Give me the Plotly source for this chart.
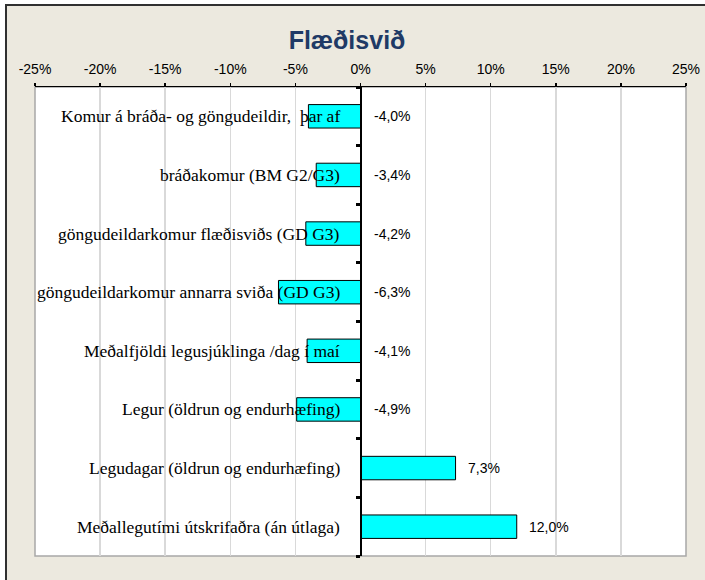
import plotly.graph_objects as go

categories = [
    "Komur á bráða- og göngudeildir,  þar af",
    "bráðakomur (BM G2/G3)",
    "göngudeildarkomur flæðisviðs (GD G3)",
    "göngudeildarkomur annarra sviða (GD G3)",
    "Meðalfjöldi legusjúklinga /dag í maí",
    "Legur (öldrun og endurhæfing)",
    "Legudagar (öldrun og endurhæfing)",
    "Meðallegutími útskrifaðra (án útlaga)",
]
values = [-0.040, -0.034, -0.042, -0.063, -0.041, -0.049, 0.073, 0.120]
value_labels = ["-4,0%", "-3,4%", "-4,2%", "-6,3%", "-4,1%", "-4,9%", "7,3%", "12,0%"]
x_ticks = [-0.25, -0.20, -0.15, -0.10, -0.05, 0, 0.05, 0.10, 0.15, 0.20, 0.25]
x_tick_labels = ["-25%", "-20%", "-15%", "-10%", "-5%", "0%", "5%", "10%", "15%", "20%", "25%"]

n = len(categories)
ypos = list(range(n))

fig = go.Figure()
fig.add_trace(go.Bar(
    x=values, y=ypos, orientation="h",
    marker=dict(color="#00FFFF", line=dict(color="black", width=1)),
    width=0.4, hoverinfo="skip",
))

annotations = []
for i, (c, v, lab) in enumerate(zip(categories, values, value_labels)):
    annotations.append(dict(
        x=0, y=i, xref="x", yref="y", text=c, showarrow=False,
        xanchor="right", yanchor="middle", xshift=-19,
        font=dict(family="Liberation Serif", size=17.5, color="black"),
    ))
    if v < 0:
        annotations.append(dict(
            x=0, y=i, xref="x", yref="y", text=lab, showarrow=False,
            xanchor="left", yanchor="middle", xshift=11,
            font=dict(family="Liberation Sans", size=14, color="black"),
        ))
    else:
        annotations.append(dict(
            x=v, y=i, xref="x", yref="y", text=lab, showarrow=False,
            xanchor="left", yanchor="middle", xshift=10,
            font=dict(family="Liberation Sans", size=14, color="black"),
        ))

L, R, T, B = 35, 19, 87, 24
W, H = 705, 580
pw, ph = W - L - R, H - T - B
def px(xp):
    return (xp - L) / pw
def py(yp):
    return 1 - (yp - T) / ph

shapes = [
    # outer border (right/bottom edges fall outside the image)
    dict(type="rect", xref="paper", yref="paper",
         x0=px(6), x1=px(720), y0=py(600), y1=py(5),
         line=dict(color="#303030", width=2), fillcolor="rgba(0,0,0,0)", layer="above"),
    # white strips outside the border
    dict(type="rect", xref="paper", yref="paper",
         x0=px(-5), x1=px(5), y0=py(600), y1=py(-5),
         line=dict(width=0), fillcolor="white", layer="above"),
    dict(type="rect", xref="paper", yref="paper",
         x0=px(-5), x1=px(720), y0=py(4), y1=py(-5),
         line=dict(width=0), fillcolor="white", layer="above"),
    # plot frame
    dict(type="rect", xref="paper", yref="paper", x0=0, x1=1, y0=0, y1=1,
         line=dict(color="#A8A8A8", width=1.5), fillcolor="rgba(0,0,0,0)", layer="below"),
]

fig.update_layout(
    width=W, height=H,
    autosize=False,
    margin=dict(l=L, r=R, t=T, b=B, pad=0, autoexpand=False),
    paper_bgcolor="#ECE9DF",
    plot_bgcolor="white",
    showlegend=False,
    title=dict(text="<b>Flæðisvið</b>", x=347 / W, xanchor="center", y=1 - 40 / H, yanchor="middle",
               font=dict(family="Liberation Sans", size=25, color="#1F3A66")),
    xaxis=dict(
        side="top", range=[-0.25, 0.25], tickvals=x_ticks, ticktext=x_tick_labels,
        showgrid=True, gridcolor="#D9D9D9", gridwidth=1.5, zeroline=False,
        showline=True, linecolor="black", linewidth=1.5,
        ticks="outside", ticklen=3, tickcolor="black", tickwidth=1.5,
        tickfont=dict(family="Liberation Sans", size=14, color="black"),
        ticklabelstandoff=3, fixedrange=True, automargin=False,
    ),
    yaxis=dict(
        range=[n - 0.5, -0.5], tickvals=[i + 0.5 for i in range(-1, n)],
        showticklabels=False, showgrid=False, zeroline=False,
        showline=True, linecolor="black", linewidth=2.5,
        ticks="outside", ticklen=4, tickwidth=3, tickcolor="black",
        anchor="free", position=0.5, fixedrange=True, automargin=False,
    ),
    annotations=annotations,
    shapes=shapes,
    bargap=0,
)

fig.write_html(
    "out.html",
    config={"displayModeBar": False, "staticPlot": True},
    post_script="document.documentElement.style.margin='0';document.body.style.margin='0';"
                "document.body.style.padding='0';document.body.style.overflow='hidden';"
                "document.documentElement.style.overflow='hidden';",
)
